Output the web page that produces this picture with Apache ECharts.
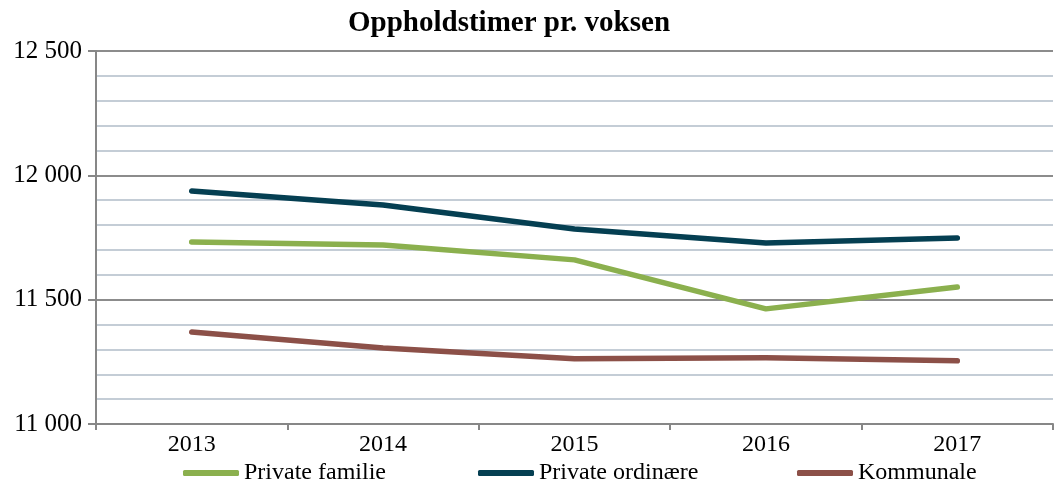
<!DOCTYPE html>
<html>
<head>
<meta charset="utf-8">
<script src="https://cdn.jsdelivr.net/npm/echarts@6/dist/echarts.min.js"></script>
<style>
  html, body { margin: 0; padding: 0; background: #fff; }
  #chart { width: 1056px; height: 484px; }
</style>
</head>
<body>
<div id="chart"></div>
<script>
  // data
  var years = ['2013', '2014', '2015', '2016', '2017'];
  var seriesNames = ['Private familie', 'Private ordinære', 'Kommunale'];
  var privateFamilie = [11732, 11720, 11660, 11463, 11551];
  var privateOrdinaere = [11937, 11881, 11784, 11728, 11748];
  var kommunale = [11370, 11306, 11262, 11266, 11254];

  var serif = '"Liberation Serif", "DejaVu Serif", serif';
  var colors = ['#8bb04e', '#053f52', '#8c5048'];
  var legendLeft = [183, 478, 797];

  function fmt(v) {
    // thousands separated by a space, as in the original
    return String(v).replace(/\B(?=(\d{3})+(?!\d))/g, ' ');
  }

  function line(name, values, color) {
    return {
      name: name,
      type: 'line',
      data: values,
      showSymbol: false,
      symbol: 'none',
      lineStyle: { width: 5.5, color: color, cap: 'round', join: 'round' },
      itemStyle: { color: color },
      animation: false
    };
  }

  // one legend per entry so each sits where the original puts it
  var legends = seriesNames.map(function (n, i) {
    return {
      left: legendLeft[i],
      top: 461,
      padding: 0,
      icon: 'roundRect',
      itemWidth: 56,
      itemHeight: 6,
      textStyle: { fontFamily: serif, fontSize: 24, color: '#000' },
      data: [n]
    };
  });

  var myChart = echarts.init(document.getElementById('chart'));
  var option = {
    backgroundColor: '#fff',
    title: {
      text: 'Oppholdstimer pr. voksen',
      left: 343,
      top: 4,
      textStyle: { fontFamily: serif, fontWeight: 'bold', fontSize: 29, color: '#000' }
    },
    grid: { left: 96, right: 3, top: 51, bottom: 60 },
    legend: legends,
    xAxis: {
      type: 'category',
      data: years,
      boundaryGap: true,
      axisLine: { lineStyle: { color: '#878787', width: 2 } },
      axisTick: { show: true, length: 6, lineStyle: { color: '#878787', width: 2 } },
      axisLabel: { fontFamily: serif, fontSize: 24, color: '#000', margin: 9 }
    },
    yAxis: {
      type: 'value',
      min: 11000,
      max: 12500,
      interval: 500,
      axisLine: { show: true, lineStyle: { color: '#878787', width: 2 } },
      axisTick: { show: true, length: 8, lineStyle: { color: '#878787', width: 2 } },
      axisLabel: { fontFamily: serif, fontSize: 25, color: '#000', margin: 14, formatter: fmt },
      splitLine: { lineStyle: { color: '#8c8c8c', width: 2 } },
      minorTick: { show: false, splitNumber: 5 },
      minorSplitLine: { show: true, lineStyle: { color: '#c4cdd6', width: 2 } }
    },
    series: [
      line(seriesNames[0], privateFamilie, colors[0]),
      line(seriesNames[1], privateOrdinaere, colors[1]),
      line(seriesNames[2], kommunale, colors[2])
    ]
  };
  myChart.setOption(option);
</script>
</body>
</html>
